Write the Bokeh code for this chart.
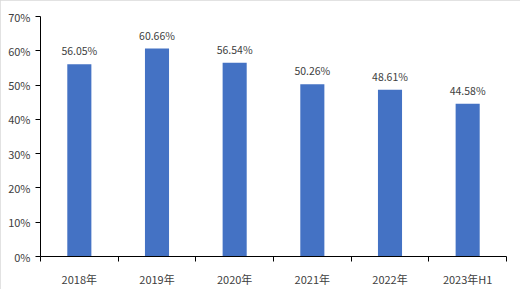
from bokeh.plotting import figure
from bokeh.models import FixedTicker, NumeralTickFormatter, Range1d, ColumnDataSource
from bokeh.core.properties import value
from bokeh.embed import file_html
from bokeh.resources import INLINE

categories = ["2018年", "2019年", "2020年", "2021年", "2022年", "2023年H1"]
rates = [56.05, 60.66, 56.54, 50.26, 48.61, 44.58]
y_ticks = [0, 10, 20, 30, 40, 50, 60, 70]

FONT = "Noto Sans CJK SC"
TXT = "#404040"

xs = [i + 0.5 for i in range(len(categories))]
src = ColumnDataSource(dict(
    x=xs,
    top=[v / 100 for v in rates],
    label=[f"{v:.2f}%" for v in rates],
))

p = figure(width=520, height=289, output_backend="svg", toolbar_location=None,
           x_range=Range1d(0, len(categories)), y_range=Range1d(0, 0.70),
           min_border_left=40, min_border_right=14, min_border_top=16, min_border_bottom=33)
p.outline_line_color = None
p.grid.grid_line_color = None
p.background_fill_color = "white"
p.border_fill_color = "white"
p.stylesheets = [":host { outline: 1px solid #d9d9d9; outline-offset: -1px; }"]

p.vbar(x="x", top="top", width=0.31, source=src, fill_color="#4472C4", line_color=None)
p.text(x="x", y="top", text="label", source=src, text_align="center", text_baseline="bottom",
       y_offset=-6, text_font=value(FONT), text_font_size="10.5px", text_color=TXT)

# y axis
ya = p.yaxis[0]
ya.ticker = FixedTicker(ticks=[t / 100 for t in y_ticks])
ya.formatter = NumeralTickFormatter(format="0%")
ya.axis_line_color = "black"
ya.major_tick_line_color = "black"
ya.major_tick_out = 5
ya.major_tick_in = 0
ya.minor_tick_line_color = None
ya.major_label_text_font = FONT
ya.major_label_text_font_size = "11px"
ya.major_label_text_color = TXT
ya.major_label_standoff = 5

# x axis: labels at centres, ticks at category boundaries
xa = p.xaxis[0]
xa.ticker = FixedTicker(ticks=xs, minor_ticks=list(range(len(categories) + 1)))
xa.major_label_overrides = {x: c for x, c in zip(xs, categories)}
xa.axis_line_color = "black"
xa.major_tick_line_color = None
xa.major_tick_out = 0
xa.major_tick_in = 0
xa.minor_tick_line_color = "black"
xa.minor_tick_out = 5
xa.minor_tick_in = 0
xa.major_label_text_font = FONT
xa.major_label_text_font_size = "11px"
xa.major_label_text_color = TXT
xa.major_label_standoff = 9

open("out.html", "w").write(file_html(p, INLINE))
